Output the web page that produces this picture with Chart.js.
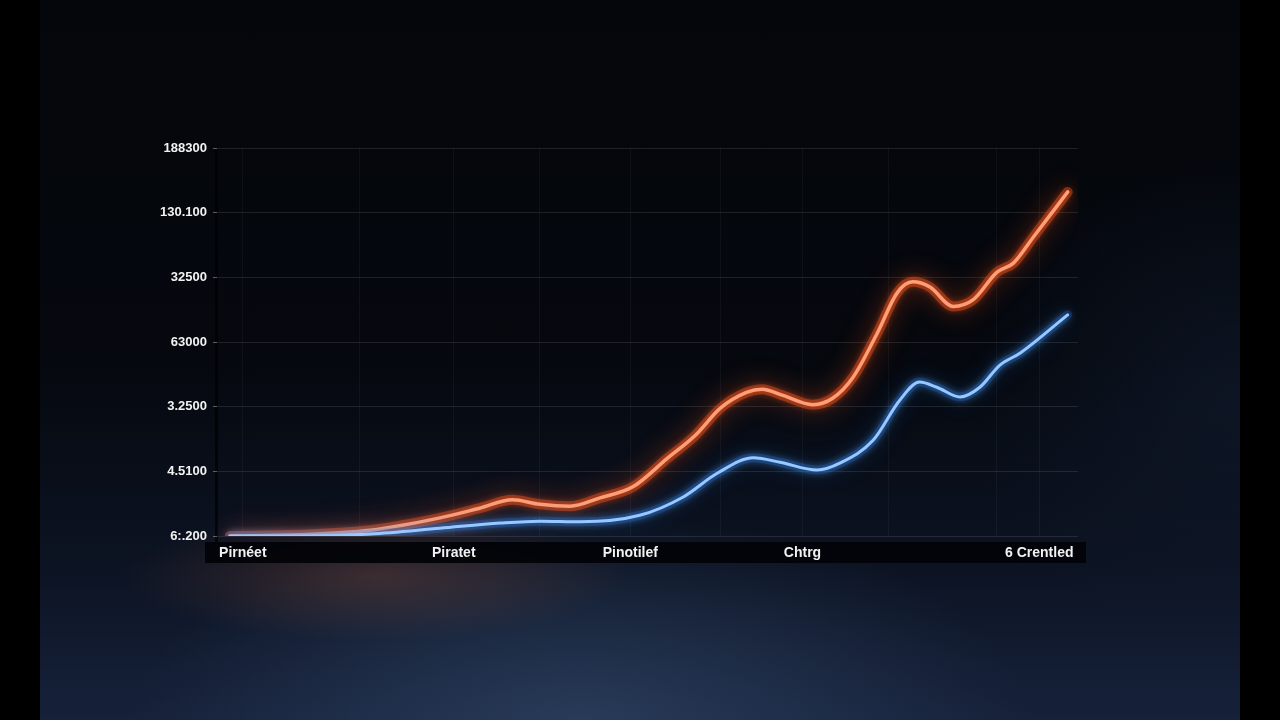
<!DOCTYPE html>
<html>
<head>
<meta charset="utf-8">
<script src="https://cdn.jsdelivr.net/npm/chart.js@4.4.1/dist/chart.umd.min.js"></script>
<style>
  html, body { margin: 0; padding: 0; background: #000; }
  #frame {
    position: absolute; left: 40px; top: 0; width: 1200px; height: 720px;
    background:
      radial-gradient(ellipse 28% 12% at 28% 80%, rgba(140,80,60,0.35), rgba(0,0,0,0) 75%),
      radial-gradient(ellipse 50% 38% at 45% 100%, rgba(55,80,115,0.55), rgba(0,0,0,0) 75%),
      radial-gradient(ellipse 30% 45% at 100% 55%, rgba(18,28,48,0.6), rgba(0,0,0,0) 75%),
      linear-gradient(#04060b 0%, #05080e 50%, #0c1322 78%, #16213a 100%);
  }
  #chart { position: absolute; left: 0; top: 0; }
</style>
</head>
<body>
<div id="frame"></div>
<canvas id="chart" width="1280" height="720"></canvas>
<script>
// y axis labels, bottom (0) to top (6)
const yTickLabels = ['6:.200', '4.5100', '3.2500', '63000', '32500', '130.100', '188300'];

// x ticks: positions on a 0..100 axis, with their labels (empty = grid line only)
const xTickValues = [3, 16.5, 27.5, 37.5, 48, 58.5, 68, 78, 90.5, 95.5];
const xTickLabels = ['Pirnéet', '', 'Piratet', '', 'Pinotilef', '', 'Chtrg', '', '', '6 Crentled'];

// orange series
const orangeX = [1.5, 9.6, 17.8, 25.9, 30.5, 34.3, 37.5, 41.0, 44.5, 48.3, 52.3, 55.5, 58.5, 61.5, 63.3, 65.8, 69.2, 71.5, 73.9, 76.7, 79.0, 80.8, 82.8, 85.5, 87.8, 90.6, 92.5, 94.8, 98.8];
const orangeY = [0, 0.02, 0.09, 0.28, 0.43, 0.56, 0.49, 0.46, 0.59, 0.76, 1.2, 1.55, 1.98, 2.22, 2.27, 2.17, 2.03, 2.13, 2.46, 3.14, 3.76, 3.93, 3.85, 3.55, 3.65, 4.08, 4.22, 4.62, 5.32];

// blue series
const blueX = [1.5, 9.6, 17.8, 25.9, 32.9, 37.5, 42.2, 49.1, 54.1, 58.1, 62.3, 65.4, 69.7, 72.4, 76.2, 79.3, 81.6, 83.6, 86.3, 88.6, 90.9, 93.3, 98.8];
const blueY = [0, 0, 0.03, 0.12, 0.2, 0.23, 0.22, 0.32, 0.6, 0.97, 1.21, 1.14, 1.02, 1.13, 1.48, 2.1, 2.38, 2.3, 2.15, 2.3, 2.64, 2.83, 3.42];

const toPoints = (xs, ys) => xs.map((x, i) => ({ x: x, y: ys[i] }));

const glowPlugin = {
  id: 'glow',
  beforeDraw(chart) {
    const { ctx, chartArea } = chart;
    ctx.save();
    // dark band holding the x labels
    ctx.fillStyle = 'rgba(2,3,7,0.94)';
    ctx.fillRect(chartArea.left - 12, chartArea.bottom + 6, chartArea.right - chartArea.left + 20, 21);
    // dark left border of the plot
    ctx.fillStyle = 'rgba(0,0,0,0.7)';
    ctx.fillRect(chartArea.left - 2, chartArea.top, 3, chartArea.bottom - chartArea.top + 6);
    ctx.restore();
  },
  beforeDatasetDraw(chart, args) {
    const ds = chart.data.datasets[args.index];
    chart.ctx.save();
    chart.ctx.shadowColor = ds.glowColor;
    chart.ctx.shadowBlur = ds.glowBlur;
  },
  afterDatasetDraw(chart) {
    chart.ctx.restore();
  }
};

const tickFont = { family: 'Liberation Sans', size: 13, weight: 'bold' };

new Chart(document.getElementById('chart').getContext('2d'), {
  type: 'line',
  data: {
    datasets: [
      { data: toPoints(blueX, blueY), borderColor: 'rgba(40,120,255,0.22)', borderWidth: 9,
        glowColor: 'rgba(40,130,255,0.9)', glowBlur: 22 },
      { data: toPoints(blueX, blueY), borderColor: '#c2e6ff', borderWidth: 3,
        glowColor: 'rgba(90,180,255,1)', glowBlur: 8 },
      { data: toPoints(orangeX, orangeY), borderColor: 'rgba(255,85,25,0.4)', borderWidth: 10,
        glowColor: 'rgba(255,80,20,1)', glowBlur: 26 },
      { data: toPoints(orangeX, orangeY), borderColor: '#ffe2cf', borderWidth: 3.5,
        glowColor: 'rgba(255,100,40,1)', glowBlur: 9 }
    ]
  },
  options: {
    responsive: false,
    animation: false,
    layout: { padding: { left: 137, right: 202, top: 148, bottom: 158 } },
    elements: {
      point: { radius: 0 },
      line: { tension: 0.4, cubicInterpolationMode: 'monotone', borderCapStyle: 'round', fill: false }
    },
    plugins: { legend: { display: false }, tooltip: { enabled: false } },
    scales: {
      x: {
        type: 'linear', min: 0, max: 100,
        afterFit(scale) { scale.height = 26; },
        afterBuildTicks(scale) { scale.ticks = xTickValues.map(v => ({ value: v })); },
        grid: { color: 'rgba(255,255,255,0.045)', drawTicks: false },
        border: { display: false },
        ticks: {
          color: '#f2f2f2', font: { family: 'Liberation Sans', size: 14, weight: 'bold' },
          padding: 9, maxRotation: 0, autoSkip: false,
          callback: (v, i) => xTickLabels[i]
        }
      },
      y: {
        min: 0, max: 6,
        afterFit(scale) { scale.width = 80; },
        grid: { color: 'rgba(255,255,255,0.1)', tickLength: 4, tickColor: 'rgba(255,255,255,0.35)' },
        border: { display: false },
        ticks: {
          stepSize: 1, color: '#f2f2f2', font: tickFont, padding: 6,
          callback: v => yTickLabels[v]
        }
      }
    }
  },
  plugins: [glowPlugin]
});
</script>
</body>
</html>
